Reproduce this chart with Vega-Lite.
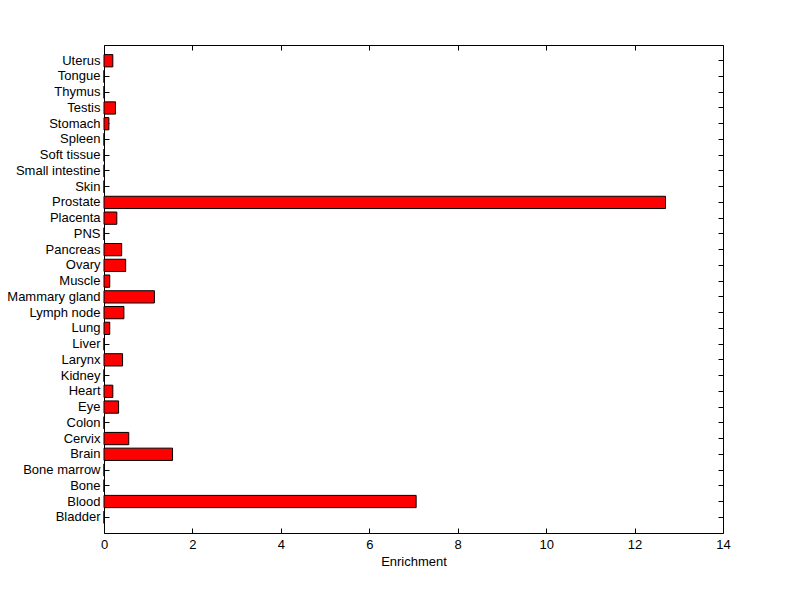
{
  "$schema": "https://vega.github.io/schema/vega-lite/v6.json",
  "width": 619,
  "height": 488,
  "autosize": {"type": "none"},
  "padding": {"left": 104, "top": 45, "right": 77, "bottom": 66},
  "background": "white",
  "config": {
    "view": {"stroke": "black", "strokeWidth": 1},
    "font": "Liberation Sans",
    "axis": {
      "grid": false,
      "domain": false,
      "tickColor": "black",
      "tickSize": -5,
      "labelColor": "black",
      "labelFont": "Liberation Sans",
      "labelFontSize": 13,
      "labelFlush": false,
      "labelOverlap": false,
      "labelBound": false,
      "titleFont": "Liberation Sans",
      "titleFontSize": 13,
      "titleFontWeight": "normal",
      "titleColor": "black"
    }
  },
  "data": {
    "values": [
      {"tissue": "Uterus", "enrichment": 0.20},
      {"tissue": "Tongue", "enrichment": 0},
      {"tissue": "Thymus", "enrichment": 0},
      {"tissue": "Testis", "enrichment": 0.26},
      {"tissue": "Stomach", "enrichment": 0.11},
      {"tissue": "Spleen", "enrichment": 0},
      {"tissue": "Soft tissue", "enrichment": 0},
      {"tissue": "Small intestine", "enrichment": 0},
      {"tissue": "Skin", "enrichment": 0},
      {"tissue": "Prostate", "enrichment": 12.70},
      {"tissue": "Placenta", "enrichment": 0.29},
      {"tissue": "PNS", "enrichment": 0},
      {"tissue": "Pancreas", "enrichment": 0.40},
      {"tissue": "Ovary", "enrichment": 0.49},
      {"tissue": "Muscle", "enrichment": 0.13},
      {"tissue": "Mammary gland", "enrichment": 1.14},
      {"tissue": "Lymph node", "enrichment": 0.45},
      {"tissue": "Lung", "enrichment": 0.13},
      {"tissue": "Liver", "enrichment": 0},
      {"tissue": "Larynx", "enrichment": 0.42},
      {"tissue": "Kidney", "enrichment": 0},
      {"tissue": "Heart", "enrichment": 0.20},
      {"tissue": "Eye", "enrichment": 0.33},
      {"tissue": "Colon", "enrichment": 0},
      {"tissue": "Cervix", "enrichment": 0.56},
      {"tissue": "Brain", "enrichment": 1.55},
      {"tissue": "Bone marrow", "enrichment": 0},
      {"tissue": "Bone", "enrichment": 0},
      {"tissue": "Blood", "enrichment": 7.06},
      {"tissue": "Bladder", "enrichment": 0}
    ]
  },
  "layer": [
    {
      "mark": {"type": "bar", "fill": "#ff0000", "stroke": "black", "strokeWidth": 1},
      "encoding": {
        "y": {
          "field": "tissue",
          "type": "nominal",
          "sort": null,
          "scale": {"paddingInner": 0.22, "paddingOuter": 0.61},
          "axis": {"orient": "left", "title": null, "labelPadding": 9}
        },
        "x": {
          "field": "enrichment",
          "type": "quantitative",
          "scale": {"domain": [0, 14], "nice": false, "zero": true},
          "axis": {"orient": "bottom", "title": "Enrichment", "values": [0, 2, 4, 6, 8, 10, 12, 14], "labelPadding": 10, "titlePadding": 4}
        }
      }
    },
    {
      "mark": {"type": "bar", "opacity": 0},
      "encoding": {
        "y": {
          "field": "tissue",
          "type": "nominal",
          "sort": null,
          "axis": {"orient": "right", "title": null, "labels": false}
        },
        "x": {
          "field": "enrichment",
          "type": "quantitative",
          "axis": {"orient": "top", "title": null, "labels": false, "values": [0, 2, 4, 6, 8, 10, 12, 14]}
        }
      }
    }
  ],
  "resolve": {"axis": {"x": "independent", "y": "independent"}}
}
